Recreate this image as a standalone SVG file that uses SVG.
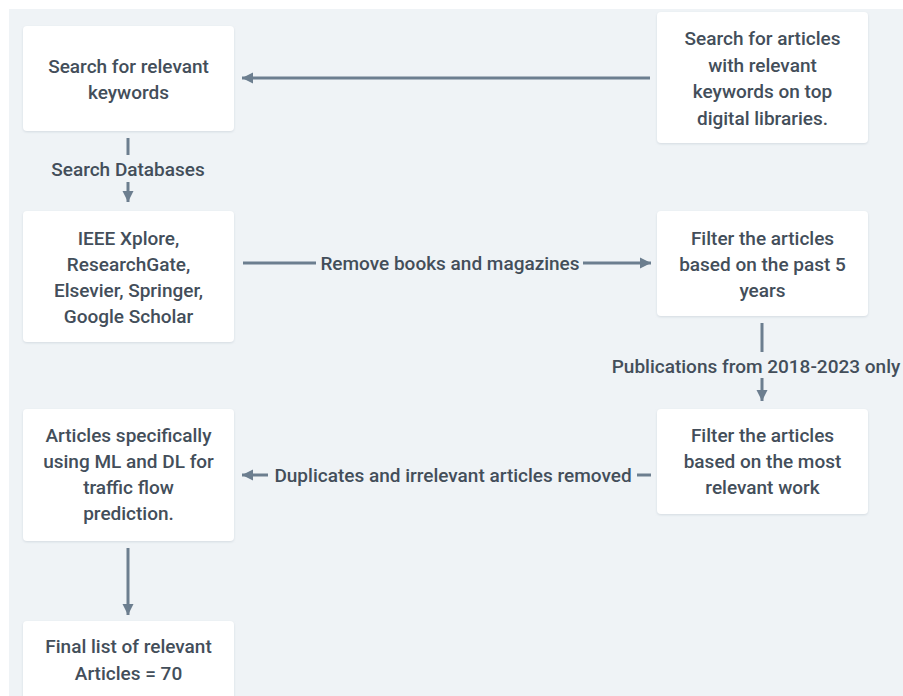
<svg xmlns="http://www.w3.org/2000/svg" width="903" height="696" viewBox="0 0 903 696">
<style>
.node rect{fill:#ffffff;}
text{font-family:Roboto,"Liberation Sans",sans-serif;font-size:19px;font-weight:500;fill:#434e5a;text-anchor:middle;}
.edge line{stroke:#6c7e8f;stroke-width:3;fill:none;}
</style>
<defs>
<filter id="sh" x="-5%" y="-5%" width="110%" height="110%">
<feDropShadow dx="0" dy="1" stdDeviation="1.2" flood-color="#b8c2cc" flood-opacity="0.5"/>
</filter>
<marker id="ah" markerUnits="userSpaceOnUse" markerWidth="14" markerHeight="14" refX="12" refY="7" orient="auto">
<path d="M1,1.5 L12,7 L1,12.5 Z" fill="#6c7e8f"/>
</marker>
</defs>
<rect x="0" y="0" width="903" height="696" fill="#ffffff"/>
<rect x="9" y="9" width="894" height="687" fill="#eff3f6"/>

<g id="connectors" class="edge">
<line x1="650" y1="78" x2="242" y2="78" marker-end="url(#ah)"/>
<line x1="128" y1="138" x2="128" y2="155"/>
<line x1="128" y1="182" x2="128" y2="202" marker-end="url(#ah)"/>
<text x="128" y="176">Search Databases</text>
<line x1="243" y1="263" x2="316" y2="263"/>
<line x1="583" y1="263" x2="651" y2="263" marker-end="url(#ah)"/>
<text x="450" y="270">Remove books and magazines</text>
<line x1="762" y1="323" x2="762" y2="352"/>
<line x1="762" y1="378" x2="762" y2="401" marker-end="url(#ah)"/>
<text x="756" y="373">Publications from 2018-2023 only</text>
<line x1="637" y1="475" x2="651" y2="475"/>
<line x1="268" y1="475" x2="242" y2="475" marker-end="url(#ah)"/>
<text x="453" y="482">Duplicates and irrelevant articles removed</text>
<line x1="128" y1="548" x2="128" y2="615" marker-end="url(#ah)"/>
</g>

<g id="n1" class="node">
<rect x="23" y="26" width="211" height="105" rx="4" filter="url(#sh)"/>
<text x="128.5" y="73">Search for relevant</text>
<text x="128.5" y="99">keywords</text>
</g>
<g id="n2" class="node">
<rect x="657" y="12" width="211" height="131" rx="4" filter="url(#sh)"/>
<text x="762.5" y="45">Search for articles</text>
<text x="762.5" y="71.5">with relevant</text>
<text x="762.5" y="98">keywords on top</text>
<text x="762.5" y="124.5">digital libraries.</text>
</g>
<g id="n3" class="node">
<rect x="23" y="211" width="211" height="131" rx="4" filter="url(#sh)"/>
<text x="128.5" y="245">IEEE Xplore,</text>
<text x="128.5" y="271">ResearchGate,</text>
<text x="128.5" y="297">Elsevier, Springer,</text>
<text x="128.5" y="323">Google Scholar</text>
</g>
<g id="n4" class="node">
<rect x="657" y="211" width="211" height="105" rx="4" filter="url(#sh)"/>
<text x="762.5" y="245">Filter the articles</text>
<text x="762.5" y="271">based on the past 5</text>
<text x="762.5" y="297">years</text>
</g>
<g id="n5" class="node">
<rect x="657" y="409" width="211" height="105" rx="4" filter="url(#sh)"/>
<text x="762.5" y="442">Filter the articles</text>
<text x="762.5" y="468">based on the most</text>
<text x="762.5" y="494">relevant work</text>
</g>
<g id="n6" class="node">
<rect x="23" y="409" width="211" height="132" rx="4" filter="url(#sh)"/>
<text x="128.5" y="442">Articles specifically</text>
<text x="128.5" y="468">using ML and DL for</text>
<text x="128.5" y="494">traffic flow</text>
<text x="128.5" y="520">prediction.</text>
</g>
<g id="n7" class="node">
<rect x="23" y="621" width="211" height="110" rx="4" filter="url(#sh)"/>
<text x="128.5" y="653">Final list of relevant</text>
<text x="128.5" y="680">Articles = 70</text>
</g>
</svg>
